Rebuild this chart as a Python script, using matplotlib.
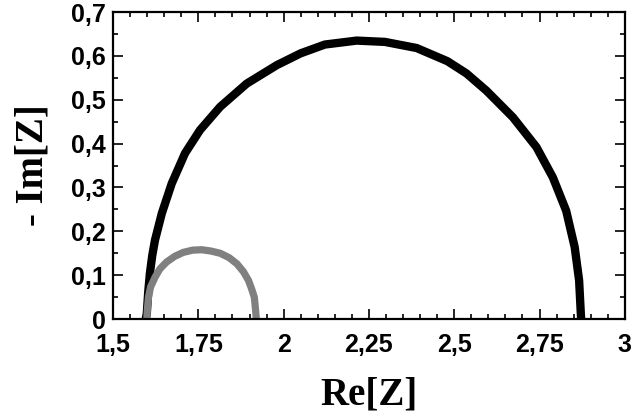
import matplotlib.pyplot as plt
from matplotlib.ticker import MultipleLocator, FuncFormatter

# puntos (Re[Z], -Im[Z])
re_negro = [1.596, 1.599, 1.603, 1.608, 1.615, 1.623, 1.643, 1.672, 1.711,
            1.755, 1.814, 1.892, 1.980, 2.050, 2.121, 2.214, 2.297, 2.390,
            2.480, 2.536, 2.594, 2.672, 2.741, 2.789, 2.828, 2.853, 2.866,
            2.871, 2.872]
im_negro = [0.000, 0.013, 0.060, 0.104, 0.145, 0.180, 0.241, 0.309, 0.378,
            0.431, 0.484, 0.537, 0.579, 0.606, 0.626, 0.635, 0.632, 0.618,
            0.588, 0.560, 0.521, 0.460, 0.392, 0.323, 0.247, 0.164, 0.088,
            0.012, 0.000]

re_gris = [1.599, 1.601, 1.604, 1.610, 1.623, 1.637, 1.657, 1.681, 1.706,
           1.733, 1.760, 1.787, 1.814, 1.840, 1.863, 1.882, 1.897, 1.906,
           1.914, 1.917, 1.920]
im_gris = [0.000, 0.025, 0.050, 0.073, 0.095, 0.114, 0.130, 0.143, 0.152,
           0.157, 0.158, 0.155, 0.150, 0.140, 0.126, 0.108, 0.088, 0.069,
           0.050, 0.027, 0.000]

xticks = [1.5, 1.75, 2, 2.25, 2.5, 2.75, 3]
yticks = [0, 0.1, 0.2, 0.3, 0.4, 0.5, 0.6, 0.7]

fig = plt.figure(figsize=(6.35, 4.17), dpi=100)
ax = fig.add_axes([0.178, 0.235, 0.806, 0.736])

ax.plot(re_negro, im_negro, color='black', lw=6.0,
        solid_capstyle='butt', solid_joinstyle='round')
ax.plot(re_gris, im_gris, color='#808080', lw=5.2,
        solid_capstyle='butt', solid_joinstyle='round')

ax.set_xlim(1.5, 3)
ax.set_ylim(0, 0.7)
ax.set_xticks(xticks)
ax.set_yticks(yticks)
ax.xaxis.set_minor_locator(MultipleLocator(0.05))
ax.yaxis.set_minor_locator(MultipleLocator(0.05))


def coma(v, pos):
    return ('%g' % v).replace('.', ',')


ax.xaxis.set_major_formatter(FuncFormatter(coma))
ax.yaxis.set_major_formatter(FuncFormatter(coma))

ax.tick_params(which='both', direction='in', top=True, right=True, width=1.2)
ax.tick_params(which='major', length=7)
ax.tick_params(which='minor', length=3.6)
ax.tick_params(axis='x', which='major', pad=10)
ax.tick_params(axis='y', which='major', pad=5)
for lab in ax.get_xticklabels() + ax.get_yticklabels():
    lab.set_fontfamily('Liberation Sans')
    lab.set_fontweight('bold')
    lab.set_fontsize(18)
for sp in ax.spines.values():
    sp.set_linewidth(1.6)

ax.set_xlabel('Re[Z]', family='Liberation Serif', fontweight='bold', fontsize=28, labelpad=14)
ax.set_ylabel('- Im[Z]', family='Liberation Serif', fontweight='bold', fontsize=28, labelpad=14)

fig.savefig('out.png', dpi=100)
